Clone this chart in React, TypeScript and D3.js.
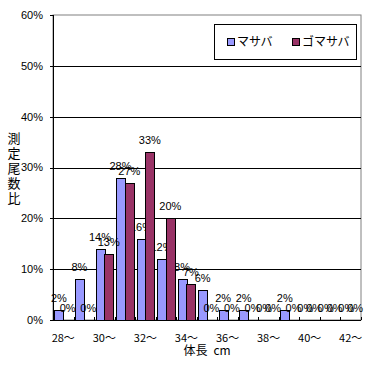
import React from "react";
import * as d3 from "d3";

const categories = ["28〜", "29〜", "30〜", "31〜", "32〜", "33〜", "34〜", "35〜", "36〜", "37〜", "38〜", "39〜", "40〜", "41〜", "42〜"];
const tickLabels = ["28〜", "30〜", "32〜", "34〜", "36〜", "38〜", "40〜", "42〜"];
const seriesNames = ["マサバ", "ゴマサバ"];
const masaba = [2, 8, 14, 28, 16, 12, 8, 6, 2, 2, 0, 2, 0, 0, 0];
const gomasaba = [0, 0, 13, 27, 33, 20, 7, 0, 0, 0, 0, 0, 0, 0, 0];
const yTicks = [0, 10, 20, 30, 40, 50, 60];
const colors = ["#9999FF", "#993366"];

const W = 372;
const H = 365;
const plot = { left: 53, right: 361, top: 15, bottom: 320 };
const numFont = "'Liberation Sans Narrow', 'Liberation Sans', Arial, sans-serif";
const jpFont = "'Noto Sans CJK JP', sans-serif";

export default function App() {
  const x = d3.scaleBand<string>().domain(categories).range([plot.left, plot.right]).paddingInner(0.14).paddingOuter(0.07);
  const step = (plot.right - plot.left) / categories.length;
  const xs = d3.scaleBand<string>().domain(seriesNames).range([0, x.bandwidth()]);
  const y = d3.scaleLinear().domain([0, 60]).range([plot.bottom, plot.top]);
  const series = [masaba, gomasaba];

  return (
    <svg width={W} height={H} style={{ position: "absolute", left: 0, top: 0, background: "#fff" }}>
      {/* plot border */}
      <rect x={plot.left} y={plot.top} width={plot.right - plot.left} height={plot.bottom - plot.top} fill="#fff" stroke="#808080" />
      {/* gridlines */}
      {yTicks.slice(1, -1).map((t) => (
        <line key={t} x1={plot.left} x2={plot.right} y1={Math.round(y(t)) + 0.5} y2={Math.round(y(t)) + 0.5} stroke="#000" />
      ))}
      {/* y axis */}
      <line x1={plot.left + 0.5} x2={plot.left + 0.5} y1={plot.top} y2={plot.bottom} stroke="#000" />
      {yTicks.map((t) => (
        <g key={t}>
          <line x1={plot.left - 3} x2={plot.left} y1={Math.round(y(t)) + 0.5} y2={Math.round(y(t)) + 0.5} stroke="#000" />
          <text x={plot.left - 10} y={y(t)} dy="0.35em" textAnchor="end" fontFamily={numFont} fontSize={11}>
            {t}%
          </text>
        </g>
      ))}
      {/* bars */}
      {series.map((vals, si) =>
        vals.map((v, i) => {
          const bx = (x(categories[i]) as number) + (xs(seriesNames[si]) as number);
          const bw = xs.bandwidth();
          return (
            <g key={`${si}-${i}`}>
              {v > 0 && (
                <rect x={Math.round(bx) + 0.5} y={Math.round(y(v)) + 0.5} width={Math.round(bw)} height={Math.round(y(0)) - Math.round(y(v))} fill={colors[si]} stroke="#000" />
              )}
              <text x={bx + bw / 2} y={y(v) - 8} textAnchor="middle" fontFamily={numFont} fontSize={11}>
                {v}%
              </text>
            </g>
          );
        })
      )}
      {/* x axis */}
      <line x1={plot.left} x2={plot.right} y1={plot.bottom + 0.5} y2={plot.bottom + 0.5} stroke="#000" />
      {d3.range(categories.length + 1).map((k) => (
        <line key={k} x1={Math.round(plot.left + k * step) + 0.5} x2={Math.round(plot.left + k * step) + 0.5} y1={plot.bottom - 3} y2={plot.bottom} stroke="#000" />
      ))}
      {tickLabels.map((l) => (
        <text key={l} x={(x(l) as number) + x.bandwidth() / 2} y={338} dy="0.35em" textAnchor="middle" fontFamily={jpFont} fontSize={11}>
          {l}
        </text>
      ))}
      <text x={(plot.left + plot.right) / 2} y={351} dy="0.35em" textAnchor="middle" fontFamily={jpFont} fontSize={12}>
        {"体長\u2002cm"}
      </text>
      {/* y title */}
      {"測定尾数比".split("").map((c, i) => (
        <text key={i} x={14} y={138 + i * 15} dy="0.35em" textAnchor="middle" fontFamily={jpFont} fontSize={13}>
          {c}
        </text>
      ))}
      {/* legend */}
      <rect x={214.5} y={24.5} width={142} height={35} fill="#fff" stroke="#000" />
      {seriesNames.map((n, i) => (
        <g key={n} transform={`translate(${227 + i * 65},42)`}>
          <rect x={0.5} y={-3.5} width={7} height={7} fill={colors[i]} stroke="#000" />
          <text x={10} y={0} dy="0.35em" fontFamily={jpFont} fontSize={12}>
            {n}
          </text>
        </g>
      ))}
    </svg>
  );
}
